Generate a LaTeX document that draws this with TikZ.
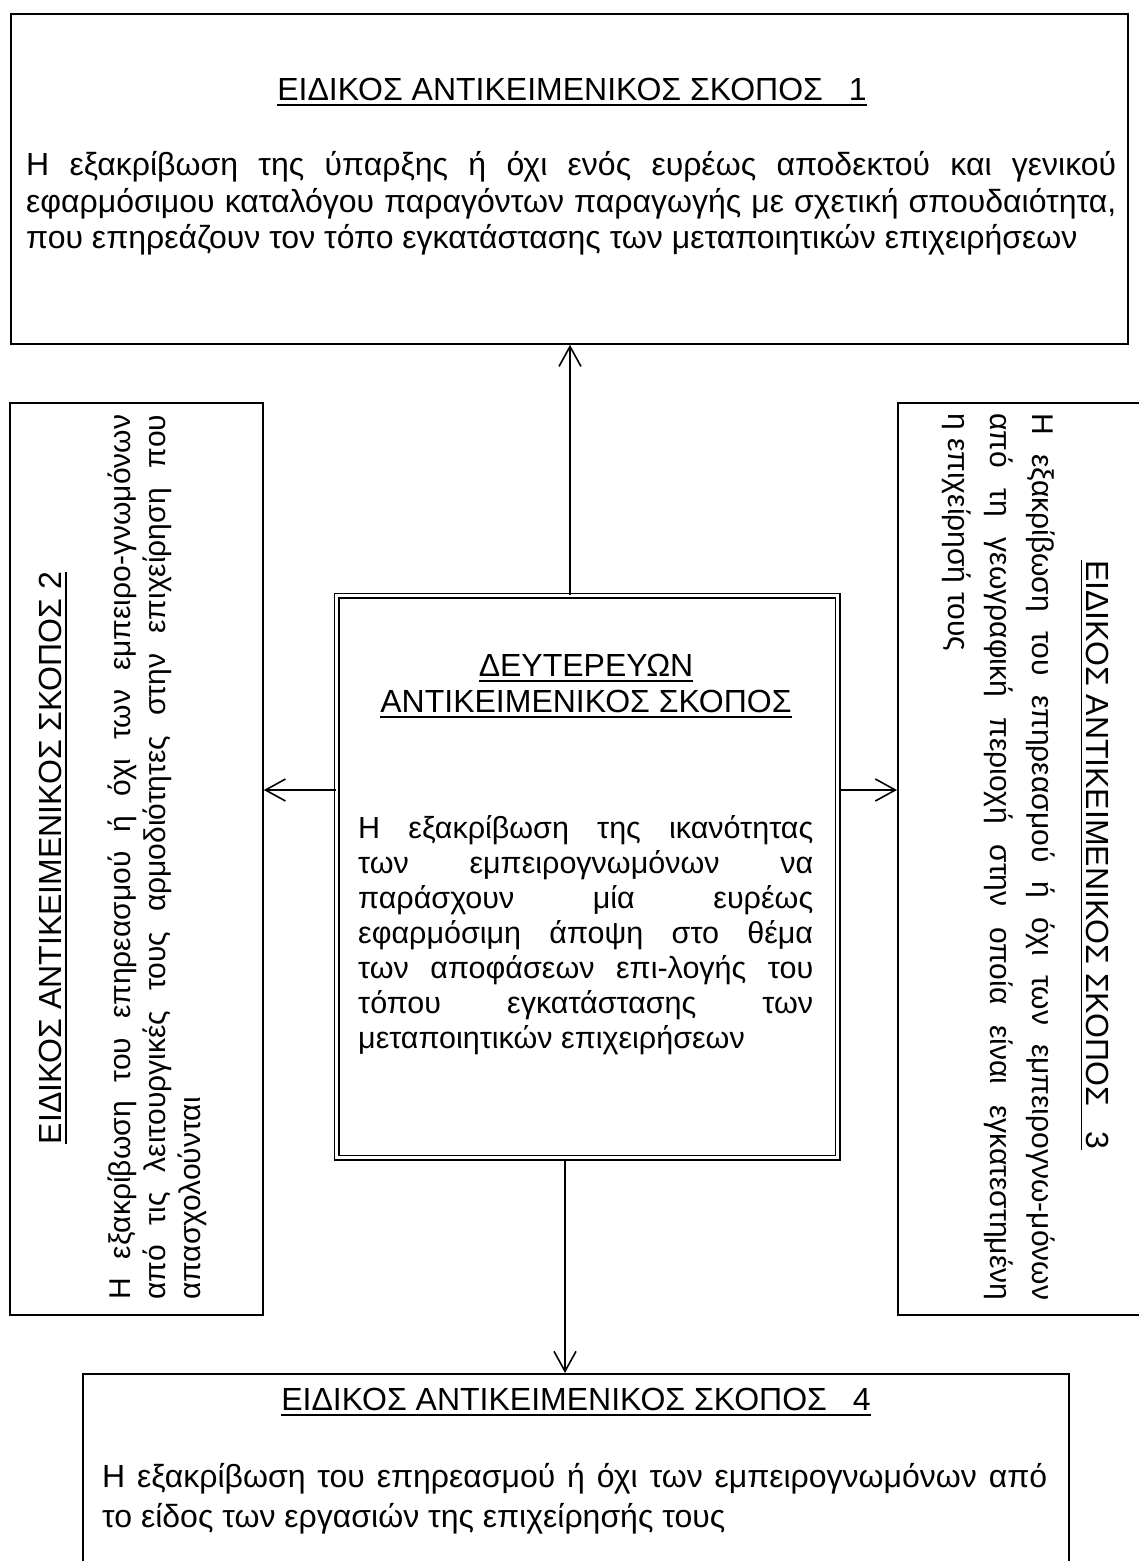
\documentclass[tikz,border=0pt]{standalone}
\usepackage{fontspec}
\setmainfont{Liberation Sans}
\usetikzlibrary{arrows.meta}
\newcommand\myul[1]{\setbox0=\hbox{#1}\leavevmode\rlap{\rule[-5.5pt]{\wd0}{1.7pt}}\box0}
\newcommand\jline[2]{\makebox[#1][s]{#2}}
\begin{document}
\begin{tikzpicture}[x=1pt,y=-1pt,
  box/.style={draw, line width=1.8pt, inner sep=0pt, anchor=north west},
  big/.style={inner sep=0pt, font=\fontsize{32}{37}\selectfont},
  mid/.style={inner sep=0pt, font=\fontsize{30.5}{35}\selectfont},
  side/.style={inner sep=0pt, font=\fontsize{30}{35}\selectfont},
  arr/.style={line width=1.6pt, -{Straight Barb[length=20pt,width=22pt]}}]
\useasboundingbox (0,0) rectangle (1139,1561);
\clip (0,0) rectangle (1139,1561);
% boxes
\node[box, minimum width=1117pt, minimum height=330pt] (tbox) at (10,13) {};
\node[box, minimum width=253pt, minimum height=912pt] (lbox) at (9,402) {};
\node[box, minimum width=260pt, minimum height=912pt] (rbox) at (897,402) {};
\node[box, minimum width=986pt, minimum height=260pt] (bbox) at (82,1373) {};
\node[box, double, double distance=3pt, line width=1.5pt, minimum width=501pt, minimum height=562pt] (cbox) at (336,595) {};
% connectors
\coordinate (vt) at (570,0);
\coordinate (vb) at (565,0);
\coordinate (hy) at (0,790);
\draw[arr] (cbox.north -| vt) -- (tbox.south -| vt);
\draw[arr] (cbox.south -| vb) -- (bbox.north -| vb);
\draw[arr] (cbox.west |- hy) -- (lbox.east |- hy);
\draw[arr] (cbox.east |- hy) -- (rbox.west |- hy);
% top box text
\node[big, anchor=base] (t1t) at (572,100) {\myul{ΕΙΔΙΚΟΣ ΑΝΤΙΚΕΙΜΕΝΙΚΟΣ ΣΚΟΠΟΣ\hspace{26pt}1}};
\node[big, anchor=base west] (t1a) at (26,175) {\jline{1090pt}{Η εξακρίβωση της ύπαρξης ή όχι ενός ευρέως αποδεκτού και γενικού}};
\node[big, anchor=base west] (t1b) at (26,212) {\jline{1090pt}{εφαρμόσιμου καταλόγου παραγόντων παραγωγής με σχετική σπουδαιότητα,}};
\node[big, anchor=base west] (t1c) at (26,248) {που επηρεάζουν τον τόπο εγκατάστασης των μεταποιητικών επιχειρήσεων};
% left box text
\node[big, rotate=90, anchor=base] (t2t) at (61,858) {\myul{ΕΙΔΙΚΟΣ ΑΝΤΙΚΕΙΜΕΝΙΚΟΣ ΣΚΟΠΟΣ 2}};
\node[side, rotate=90, anchor=base west] (t2a) at (130,1300) {\jline{885pt}{Η εξακρίβωση του επηρεασμού ή όχι των εμπειρο-γνωμόνων}};
\node[side, rotate=90, anchor=base west] (t2b) at (165,1300) {\jline{885pt}{από τις λειτουργικές τους αρμοδιότητες στην επιχείρηση που}};
\node[side, rotate=90, anchor=base west] (t2c) at (200,1300) {απασχολούνται};
% right box text
\node[big, rotate=-90, anchor=base] (t3t) at (1086,855) {\myul{ΕΙΔΙΚΟΣ ΑΝΤΙΚΕΙΜΕΝΙΚΟΣ ΣΚΟΠΟΣ\hspace{26pt}3}};
\node[side, rotate=-90, anchor=base west] (t3a) at (1032,413) {\jline{887pt}{Η εξακρίβωση του επηρεασμού ή όχι των εμπειρογνω-μόνων}};
\node[side, rotate=-90, anchor=base west] (t3b) at (990,413) {\jline{887pt}{από τη γεωγραφική περιοχή στην οποία είναι εγκατεστημένη}};
\node[side, rotate=-90, anchor=base west] (t3c) at (948,413) {η επιχείρησή τους};
% centre box text
\node[big, anchor=base] (c0a) at (586,676) {\myul{ΔΕΥΤΕΡΕΥΩΝ}};
\node[big, anchor=base] (c0b) at (586,712) {\myul{ΑΝΤΙΚΕΙΜΕΝΙΚΟΣ ΣΚΟΠΟΣ}};
\node[mid, anchor=base west] (c1) at (358,838) {\jline{455pt}{Η εξακρίβωση της ικανότητας}};
\node[mid, anchor=base west] (c2) at (358,873) {\jline{455pt}{των εμπειρογνωμόνων να}};
\node[mid, anchor=base west] (c3) at (358,908) {\jline{455pt}{παράσχουν μία ευρέως}};
\node[mid, anchor=base west] (c4) at (358,943) {\jline{455pt}{εφαρμόσιμη άποψη στο θέμα}};
\node[mid, anchor=base west] (c5) at (358,978) {\jline{455pt}{των αποφάσεων επι-λογής του}};
\node[mid, anchor=base west] (c6) at (358,1013) {\jline{455pt}{τόπου εγκατάστασης των}};
\node[mid, anchor=base west] (c7) at (358,1048) {μεταποιητικών επιχειρήσεων};
% bottom box text
\node[big, anchor=base] (t4t) at (576,1410) {\myul{ΕΙΔΙΚΟΣ ΑΝΤΙΚΕΙΜΕΝΙΚΟΣ ΣΚΟΠΟΣ\hspace{26pt}4}};
\node[big, anchor=base west] (t4a) at (102,1487) {\jline{945pt}{Η εξακρίβωση του επηρεασμού ή όχι των εμπειρογνωμόνων από}};
\node[big, anchor=base west] (t4b) at (102,1527) {το είδος των εργασιών της επιχείρησής τους};
\end{tikzpicture}
\end{document}
